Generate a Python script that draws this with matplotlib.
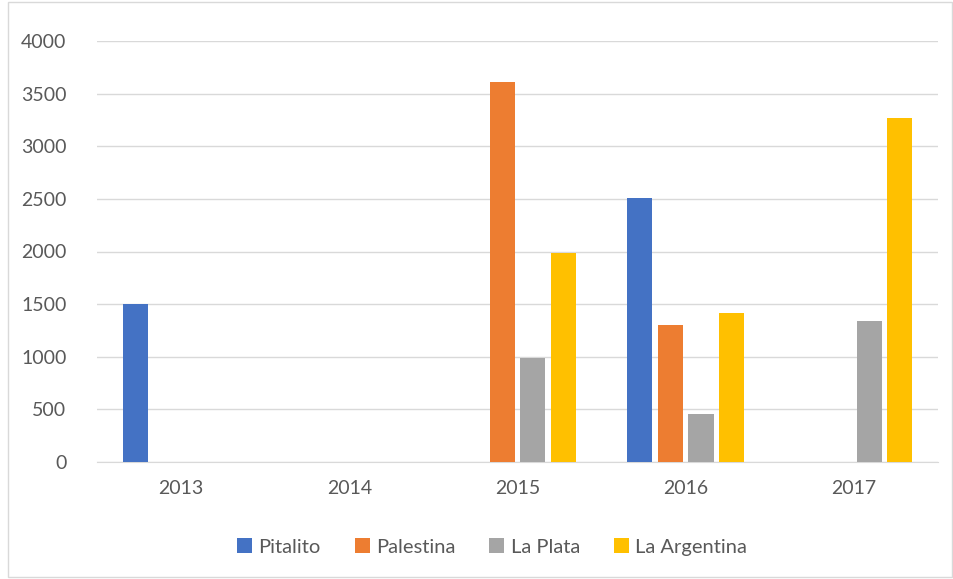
import numpy as np
import matplotlib.pyplot as plt
from matplotlib.patches import Rectangle

years = ["2013", "2014", "2015", "2016", "2017"]
pitalito = [1500, 0, 0, 2510, 0]
palestina = [0, 0, 3615, 1300, 0]
la_plata = [0, 0, 990, 460, 1335]
la_argentina = [0, 0, 1990, 1415, 3270]
series_names = ["Pitalito", "Palestina", "La Plata", "La Argentina"]
colors = ["#4472C4", "#ED7D31", "#A5A5A5", "#FFC000"]

plt.rcParams["font.family"] = ["Lato", "DejaVu Sans"]
text_color = "#595959"

fig = plt.figure(figsize=(9.54, 5.79), dpi=100)
ax = fig.add_axes([97 / 954, 1 - 462 / 579, (938 - 97) / 954, (462 - 41) / 579])

# light outer frame like the Excel chart area
fig.patches.append(Rectangle((8 / 954, 2 / 579), 1 - 10 / 954, 1 - 4 / 579,
                             transform=fig.transFigure, fill=False,
                             edgecolor="#D9D9D9", linewidth=1))

x = np.arange(len(years))
width = 0.149
pitch = 0.182
all_series = [pitalito, palestina, la_plata, la_argentina]
for i, (vals, name, c) in enumerate(zip(all_series, series_names, colors)):
    ax.bar(x + (i - 1.5) * pitch, vals, width, color=c, label=name, zorder=3)

ax.set_xlim(-0.5, len(years) - 0.5)
ax.set_ylim(0, 4000)
ax.set_yticks(range(0, 4001, 500))
ax.set_xticks(x)
ax.set_xticklabels(years)
ax.grid(axis="y", color="#D9D9D9", linewidth=1, zorder=0)
for s in ["top", "right", "left"]:
    ax.spines[s].set_visible(False)
ax.spines["bottom"].set_color("#D9D9D9")
ax.tick_params(axis="both", length=0, labelsize=14, colors=text_color)
ax.tick_params(axis="y", pad=22)
ax.tick_params(axis="x", pad=13)

leg = fig.legend(loc="center", bbox_to_anchor=(492 / 954, 1 - 547 / 579), ncol=4,
                 frameon=False, fontsize=14.5, handlelength=0.75, handleheight=0.75,
                 handletextpad=0.3, columnspacing=1.7)
for t in leg.get_texts():
    t.set_color(text_color)

fig.savefig("out.png", dpi=100)
